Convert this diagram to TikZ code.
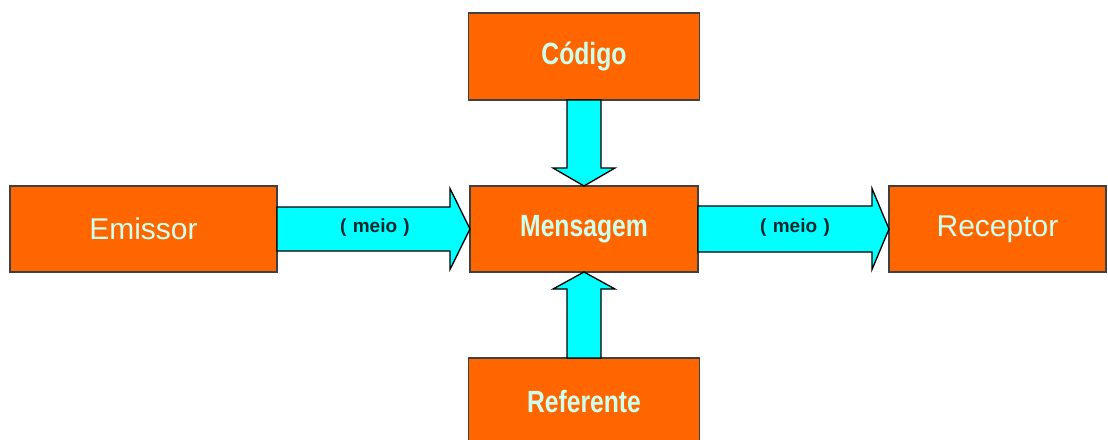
\documentclass[tikz,border=0pt]{standalone}
\usepackage{fontspec}
\setmainfont{Liberation Sans}
\usetikzlibrary{calc}
\definecolor{boxorange}{RGB}{255,102,0}
\definecolor{arrcyan}{RGB}{0,255,255}
\definecolor{boxtext}{RGB}{204,255,238}
\definecolor{meiotext}{RGB}{0,40,45}
\newcommand{\tallbold}[1]{\scalebox{0.95}[1.18]{\bfseries #1}}
\begin{document}
\begin{tikzpicture}[x=1pt,y=-1pt,
  boxnode/.style={rectangle,fill=boxorange,draw=black!75,line width=1.3pt,
    inner sep=0pt,outer sep=0pt,text=boxtext},
  wide/.style={boxnode,minimum height=86pt},
  blk/.style={fill=arrcyan,draw=black,line width=1.3pt,line join=miter},
  regtext/.style={font=\fontsize{30}{32}\selectfont},
  boldtext/.style={font=\fontsize{26}{28}\selectfont},
  meio/.style={font=\fontsize{19}{21}\selectfont\bfseries,text=meiotext,inner sep=0pt}]
\useasboundingbox (0,0) rectangle (1108,439);
\clip (0,0) rectangle (1108,439);
\fill[white] (0,0) rectangle (1108,439);

\node[wide,minimum width=267pt,regtext] (em) at (143.5,229) {Emissor};
\node[wide,minimum width=228pt,boldtext] (msg) at (584,229) {\tallbold{Mensagem}};
\node[wide,minimum width=231pt,minimum height=87pt,boldtext] (cod) at (584,56.5) {\tallbold{Código}};
\node[wide,minimum width=231pt,minimum height=87pt,boldtext] (ref) at (584,401.5) {\tallbold{Referente}};
\node[wide,minimum width=217pt,regtext] (rec) at (997.5,229) {Receptor};

% Emissor -> Mensagem
\draw[blk] ([yshift=22pt]em.east) -- ([xshift=-20pt,yshift=22pt]msg.west)
  -- ([xshift=-20pt,yshift=40.5pt]msg.west) -- (msg.west)
  -- ([xshift=-20pt,yshift=-40.5pt]msg.west) -- ([xshift=-20pt,yshift=-22pt]msg.west)
  -- ([yshift=-22pt]em.east) -- cycle;
% Mensagem -> Receptor
\draw[blk] ([yshift=23pt]msg.east) -- ([xshift=-17pt,yshift=23pt]rec.west)
  -- ([xshift=-17pt,yshift=40.5pt]rec.west) -- (rec.west)
  -- ([xshift=-17pt,yshift=-40.5pt]rec.west) -- ([xshift=-17pt,yshift=-23pt]rec.west)
  -- ([yshift=-23pt]msg.east) -- cycle;
% Codigo -> Mensagem
\draw[blk] ([xshift=-17pt]cod.south) -- ([xshift=-17pt,yshift=18pt]msg.north)
  -- ([xshift=-31pt,yshift=18pt]msg.north) -- (msg.north)
  -- ([xshift=31pt,yshift=18pt]msg.north) -- ([xshift=17pt,yshift=18pt]msg.north)
  -- ([xshift=17pt]cod.south) -- cycle;
% Referente -> Mensagem
\draw[blk] ([xshift=-17pt]ref.north) -- ([xshift=-17pt,yshift=-17pt]msg.south)
  -- ([xshift=-31pt,yshift=-17pt]msg.south) -- (msg.south)
  -- ([xshift=31pt,yshift=-17pt]msg.south) -- ([xshift=17pt,yshift=-17pt]msg.south)
  -- ([xshift=17pt]ref.north) -- cycle;

\node[meio] (m1) at (375,228) {(\,\,meio\,\,)};
\node[meio] (m2) at (795,228) {(\,\,meio\,\,)};
\end{tikzpicture}
\end{document}
